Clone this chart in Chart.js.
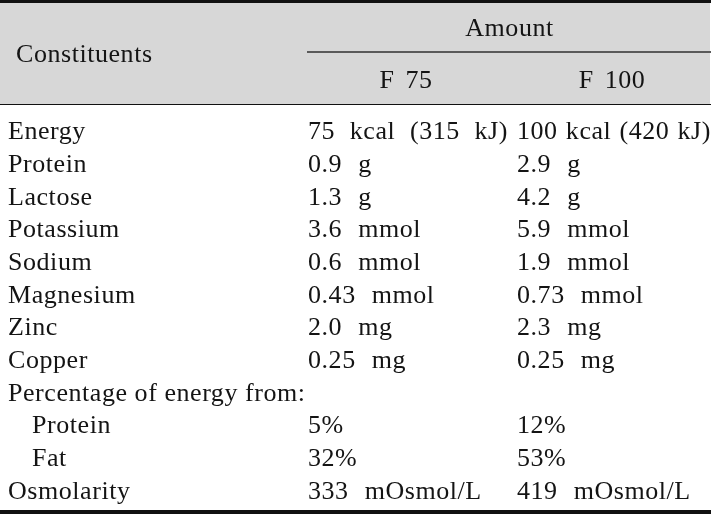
<!DOCTYPE html>
<html>
<head>
<meta charset="utf-8">
<script src="https://cdn.jsdelivr.net/npm/chart.js@4.4.1/dist/chart.umd.min.js"></script>
<style>
  html, body { margin: 0; padding: 0; background: #fff; }
  #wrap { width: 711px; height: 515px; }
</style>
</head>
<body>
<div id="wrap"><canvas id="myChart" width="711" height="515"></canvas></div>
<script>
// Table content
const headerLabel = 'Constituents';
const headerGroup = 'Amount';
const columnNames = ['F 75', 'F 100'];

const constituents = [
  'Energy', 'Protein', 'Lactose', 'Potassium', 'Sodium', 'Magnesium',
  'Zinc', 'Copper', 'Percentage of energy from:', 'Protein', 'Fat', 'Osmolarity'
];
const f75 = [
  '75 kcal (315 kJ)', '0.9 g', '1.3 g', '3.6 mmol', '0.6 mmol', '0.43 mmol',
  '2.0 mg', '0.25 mg', '', '5%', '32%', '333 mOsmol/L'
];
const f100 = [
  '100 kcal (420 kJ)', '2.9 g', '4.2 g', '5.9 mmol', '1.9 mmol', '0.73 mmol',
  '2.3 mg', '0.25 mg', '', '12%', '53%', '419 mOsmol/L'
];
// sub-rows under "Percentage of energy from:"
const subRows = [9, 10];

// layout (pixels)
const colX = [8, 308, 517];
const colEnd = [300, 508, 711];
const indent = 24;
const FONT = '26px "Liberation Serif", "Times New Roman", serif';
const INK = '#141414';
const WORD_GAP = 9;

const rowIdx = constituents.map((_, i) => i);
const columns = [constituents, f75, f100];

const ctx = document.getElementById('myChart').getContext('2d');

function drawCell(c, text, x, y, maxW, align, ws) {
  c.font = FONT;
  c.fillStyle = INK;
  c.letterSpacing = '0.55px';
  c.textBaseline = 'alphabetic';
  c.textAlign = align || 'left';
  // widen word gaps like the justified original, unless the cell is full
  const spaces = (text.match(/ /g) || []).length;
  c.wordSpacing = '0px';
  const w0 = c.measureText(text).width;
  let extra = ws || 0;
  if (spaces && maxW) extra = Math.max(0, Math.min(extra, (maxW - w0) / spaces));
  c.wordSpacing = extra + 'px';
  const w = c.measureText(text).width;
  c.fillText(text, x, y);
  return w;
}

const tablePlugin = {
  id: 'table',
  beforeDraw(chart) {
    const c = chart.ctx;
    const W = chart.width;
    c.save();
    // header band
    c.fillStyle = '#d7d7d7';
    c.fillRect(0, 3, W - 1, 101);
    // top rule
    c.fillStyle = '#111';
    c.fillRect(0, 0, W, 3);
    // rule under "Amount"
    c.fillStyle = '#5a5a5a';
    c.fillRect(chart.scales.x.getPixelForValue(colX[1]) - 1, 51, W, 2);
    // rule under header
    c.fillStyle = '#111';
    c.fillRect(0, 104, W, 1);
    // bottom rule
    c.fillRect(0, chart.chartArea.bottom + 2, W, 4);
    c.restore();
  },
  afterDatasetsDraw(chart) {
    const c = chart.ctx;
    const xs = chart.scales.x;
    const W = chart.width;
    c.save();
    const widest = [];
    chart.data.datasets.forEach((ds, k) => {
      const meta = chart.getDatasetMeta(k);
      widest[k] = 0;
      meta.data.forEach((pt, i) => {
        const text = ds.cells[i];
        if (!text) return;
        let x = pt.x;
        if (k === 0 && subRows.includes(i)) x += indent;
        const maxW = xs.getPixelForValue(colEnd[k]) - x;
        const w = drawCell(c, text, x, pt.y + 7, maxW, 'left', k === 0 ? 0 : WORD_GAP);
        widest[k] = Math.max(widest[k], w);
      });
    });
    // header text, centred over the column content
    drawCell(c, headerLabel, xs.getPixelForValue(16), 62, 0, 'left', 0);
    drawCell(c, headerGroup, (xs.getPixelForValue(colX[1]) + W) / 2, 36, 0, 'center', 0);
    columnNames.forEach((name, k) => {
      const x0 = xs.getPixelForValue(colX[k + 1]);
      drawCell(c, name, x0 + widest[k + 1] / 2 - 2, 88, 0, 'center', 4);
    });
    c.restore();
  }
};

const chart = new Chart(ctx, {
  type: 'scatter',
  data: {
    datasets: columns.map((cells, k) => ({
      label: k === 0 ? headerLabel : columnNames[k - 1],
      cells: cells,
      data: rowIdx.map(i => ({ x: colX[k], y: i })),
      pointRadius: 0,
      pointHoverRadius: 0,
    })),
  },
  options: {
    responsive: false,
    animation: false,
    events: [],
    layout: { padding: { top: 116, bottom: 7, left: 0, right: 0 } },
    plugins: { legend: { display: false }, tooltip: { enabled: false } },
    scales: {
      x: { type: 'linear', min: 0, max: 711, display: false },
      y: {
        type: 'category',
        labels: constituents.map((name, i) => i + ' ' + name),
        offset: true,
        display: false,
      },
    },
  },
  plugins: [tablePlugin],
});
</script>
</body>
</html>
